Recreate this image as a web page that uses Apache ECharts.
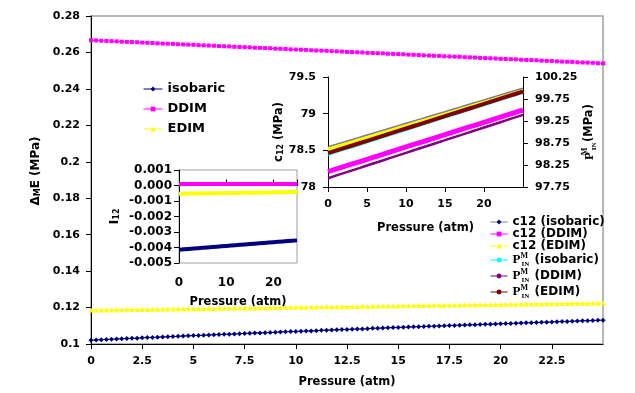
<!DOCTYPE html>
<html>
<head>
<meta charset="utf-8">
<script src="https://cdn.jsdelivr.net/npm/echarts@6/dist/echarts.min.js"></script>
<style>
  html, body { margin: 0; padding: 0; background: #fff; }
  #chart { width: 635px; height: 393px; }
</style>
</head>
<body>
<div id="chart"></div>
<script>
// main plot, pressure (atm) every 0.25
const pressure = [
  0, 0.25, 0.5, 0.75, 1, 1.25, 1.5, 1.75, 2, 2.25, 2.5, 2.75, 3, 3.25, 3.5, 3.75, 4, 4.25, 4.5, 4.75,
  5, 5.25, 5.5, 5.75, 6, 6.25, 6.5, 6.75, 7, 7.25, 7.5, 7.75, 8, 8.25, 8.5, 8.75, 9, 9.25, 9.5, 9.75,
  10, 10.25, 10.5, 10.75, 11, 11.25, 11.5, 11.75, 12, 12.25, 12.5, 12.75, 13, 13.25, 13.5, 13.75, 14, 14.25, 14.5, 14.75,
  15, 15.25, 15.5, 15.75, 16, 16.25, 16.5, 16.75, 17, 17.25, 17.5, 17.75, 18, 18.25, 18.5, 18.75, 19, 19.25, 19.5, 19.75,
  20, 20.25, 20.5, 20.75, 21, 21.25, 21.5, 21.75, 22, 22.25, 22.5, 22.75, 23, 23.25, 23.5, 23.75, 24, 24.25, 24.5, 24.75, 25
]
const dmeIsobaric = [
  0.1021, 0.1022, 0.1024, 0.1025, 0.1026, 0.1027, 0.1029, 0.1030, 0.1031, 0.1032, 0.1034, 0.1035, 0.1036, 0.1037, 0.1039, 0.1040, 0.1041, 0.1042, 0.1044, 0.1045,
  0.1046, 0.1047, 0.1048, 0.1049, 0.1051, 0.1052, 0.1053, 0.1054, 0.1055, 0.1056, 0.1058, 0.1059, 0.1060, 0.1061, 0.1062, 0.1063, 0.1064, 0.1066, 0.1067, 0.1068,
  0.1069, 0.1070, 0.1071, 0.1072, 0.1073, 0.1075, 0.1076, 0.1077, 0.1078, 0.1079, 0.1080, 0.1081, 0.1082, 0.1083, 0.1084, 0.1086, 0.1087, 0.1088, 0.1089, 0.1090,
  0.1091, 0.1092, 0.1093, 0.1094, 0.1095, 0.1096, 0.1097, 0.1098, 0.1099, 0.1100, 0.1101, 0.1102, 0.1103, 0.1104, 0.1105, 0.1106, 0.1107, 0.1108, 0.1109, 0.1110,
  0.1111, 0.1112, 0.1113, 0.1114, 0.1115, 0.1116, 0.1117, 0.1118, 0.1119, 0.1120, 0.1121, 0.1122, 0.1123, 0.1124, 0.1125, 0.1126, 0.1127, 0.1128, 0.1129, 0.1130, 0.1131
]
const dmeDDIM = [
  0.2667, 0.2666, 0.2664, 0.2663, 0.2662, 0.2661, 0.2659, 0.2658, 0.2657, 0.2656, 0.2654, 0.2653, 0.2652, 0.2650, 0.2649, 0.2648, 0.2647, 0.2645, 0.2644, 0.2643,
  0.2642, 0.2640, 0.2639, 0.2638, 0.2637, 0.2635, 0.2634, 0.2633, 0.2631, 0.2630, 0.2629, 0.2628, 0.2626, 0.2625, 0.2624, 0.2623, 0.2621, 0.2620, 0.2619, 0.2617,
  0.2616, 0.2615, 0.2614, 0.2612, 0.2611, 0.2610, 0.2609, 0.2607, 0.2606, 0.2605, 0.2603, 0.2602, 0.2601, 0.2600, 0.2598, 0.2597, 0.2596, 0.2595, 0.2593, 0.2592,
  0.2591, 0.2590, 0.2588, 0.2587, 0.2586, 0.2584, 0.2583, 0.2582, 0.2581, 0.2579, 0.2578, 0.2577, 0.2576, 0.2574, 0.2573, 0.2572, 0.2570, 0.2569, 0.2568, 0.2567,
  0.2565, 0.2564, 0.2563, 0.2562, 0.2560, 0.2559, 0.2558, 0.2557, 0.2555, 0.2554, 0.2553, 0.2551, 0.2550, 0.2549, 0.2548, 0.2546, 0.2545, 0.2544, 0.2543, 0.2541, 0.2540
]
const dmeEDIM = [
  0.1186, 0.1186, 0.1187, 0.1187, 0.1188, 0.1188, 0.1188, 0.1189, 0.1189, 0.1190, 0.1190, 0.1190, 0.1191, 0.1191, 0.1191, 0.1192, 0.1192, 0.1193, 0.1193, 0.1193,
  0.1194, 0.1194, 0.1195, 0.1195, 0.1195, 0.1196, 0.1196, 0.1197, 0.1197, 0.1197, 0.1198, 0.1198, 0.1198, 0.1199, 0.1199, 0.1200, 0.1200, 0.1200, 0.1201, 0.1201,
  0.1202, 0.1202, 0.1202, 0.1203, 0.1203, 0.1204, 0.1204, 0.1204, 0.1205, 0.1205, 0.1205, 0.1206, 0.1206, 0.1207, 0.1207, 0.1207, 0.1208, 0.1208, 0.1209, 0.1209,
  0.1209, 0.1210, 0.1210, 0.1211, 0.1211, 0.1211, 0.1212, 0.1212, 0.1213, 0.1213, 0.1213, 0.1214, 0.1214, 0.1214, 0.1215, 0.1215, 0.1216, 0.1216, 0.1216, 0.1217,
  0.1217, 0.1218, 0.1218, 0.1218, 0.1219, 0.1219, 0.1220, 0.1220, 0.1220, 0.1221, 0.1221, 0.1221, 0.1222, 0.1222, 0.1223, 0.1223, 0.1223, 0.1224, 0.1224, 0.1225, 0.1225
]

// insets, pressure every 1 atm
const pressureInset = [0, 1, 2, 3, 4, 5, 6, 7, 8, 9, 10, 11, 12, 13, 14, 15, 16, 17, 18, 19, 20, 21, 22, 23, 24, 25]
const i12Isobaric = [-0.00414, -0.004116, -0.004092, -0.004068, -0.004044, -0.00402, -0.003996, -0.003972, -0.003948, -0.003924, -0.0039, -0.003876, -0.003852, -0.003828, -0.003804, -0.00378, -0.003756, -0.003732, -0.003708, -0.003684, -0.00366, -0.003636, -0.003612, -0.003588, -0.003564, -0.00354]
const i12DDIM = [0.0001, 0.0001, 0.0001, 0.0001, 0.0001, 0.0001, 0.0001, 0.0001, 0.0001, 0.0001, 0.0001, 0.0001, 0.0001, 0.0001, 0.0001, 0.0001, 0.0001, 0.0001, 0.0001, 0.0001, 0.0001, 0.0001, 0.0001, 0.0001, 0.0001, 0.0001]
const i12EDIM = [-0.00053, -0.000526, -0.000521, -0.000517, -0.000512, -0.000508, -0.000504, -0.000499, -0.000495, -0.00049, -0.000486, -0.000482, -0.000477, -0.000473, -0.000468, -0.000464, -0.00046, -0.000455, -0.000451, -0.000446, -0.000442, -0.000438, -0.000433, -0.000429, -0.000424, -0.00042]
const c12Isobaric = [78.545, 78.577, 78.609, 78.641, 78.673, 78.705, 78.737, 78.769, 78.801, 78.833, 78.865, 78.897, 78.929, 78.961, 78.993, 79.025, 79.057, 79.089, 79.121, 79.153, 79.185, 79.217, 79.249, 79.281, 79.313, 79.345]
const c12DDIM = [78.210, 78.244, 78.277, 78.311, 78.344, 78.378, 78.412, 78.445, 78.479, 78.512, 78.546, 78.580, 78.613, 78.647, 78.680, 78.714, 78.748, 78.781, 78.815, 78.848, 78.882, 78.916, 78.949, 78.983, 79.016, 79.050]
const c12EDIM = [78.510, 78.542, 78.574, 78.606, 78.638, 78.670, 78.702, 78.734, 78.766, 78.798, 78.830, 78.862, 78.894, 78.926, 78.958, 78.990, 79.022, 79.054, 79.086, 79.118, 79.150, 79.182, 79.214, 79.246, 79.278, 79.310]
const pinIsobaric = [98.480, 98.536, 98.593, 98.649, 98.706, 98.762, 98.818, 98.875, 98.931, 98.988, 99.044, 99.100, 99.157, 99.213, 99.270, 99.326, 99.382, 99.439, 99.495, 99.552, 99.608, 99.664, 99.721, 99.777, 99.834, 99.890]
const pinDDIM = [97.950, 98.008, 98.065, 98.123, 98.180, 98.238, 98.296, 98.353, 98.411, 98.468, 98.526, 98.584, 98.641, 98.699, 98.756, 98.814, 98.872, 98.929, 98.987, 99.044, 99.102, 99.160, 99.217, 99.275, 99.332, 99.390]
const pinEDIM = [98.520, 98.576, 98.632, 98.688, 98.744, 98.800, 98.856, 98.912, 98.968, 99.024, 99.080, 99.136, 99.192, 99.248, 99.304, 99.360, 99.416, 99.472, 99.528, 99.584, 99.640, 99.696, 99.752, 99.808, 99.864, 99.920]

const FONT = 'DejaVu Sans'
const NAVY = '#000080', MAGENTA = '#ff00ff', YELLOW = '#ffff00'
const CYAN = '#00ffff', PURPLE = '#800080', BROWN = '#800000'

const pairs = (xs, ys) => xs.map((x, i) => [x, ys[i]])
const txt = (size, extra) => Object.assign({ fontFamily: FONT, fontWeight: 'bold', fontSize: size, color: '#000' }, extra || {})
const blackLine = { show: true, onZero: false, lineStyle: { color: '#000', width: 1 } }
const tick = (len) => ({ show: true, length: len, lineStyle: { color: '#000', width: 1 } })
const noSplit = { show: false }
// P with stacked M (sup) and IN (sub)
const pRich = {
  p: { fontFamily: 'Liberation Serif', fontWeight: 'bold', fontSize: 13, color: '#000', lineHeight: 16 },
  m: { fontFamily: 'Liberation Serif', fontWeight: 'bold', fontSize: 8, color: '#000', verticalAlign: 'top', width: 1, lineHeight: 9 },
  n: { fontFamily: 'Liberation Serif', fontWeight: 'bold', fontSize: 7, color: '#000', verticalAlign: 'bottom', width: 9, lineHeight: 8 },
  t: txt(12, { lineHeight: 14 })
}

const chart = echarts.init(document.getElementById('chart'))

const option = {
  animation: false,
  backgroundColor: '#fff',
  grid: [
    { left: 91, top: 16, width: 512, height: 328, show: true, borderColor: '#a0a0a0', borderWidth: 1.5, backgroundColor: 'transparent' },
    { left: 179, top: 170, width: 118, height: 93, show: true, borderColor: '#a0a0a0', borderWidth: 1, backgroundColor: '#fff' },
    { left: 328, top: 77, width: 195, height: 110, show: false }
  ],
  legend: [
    {
      orient: 'vertical', left: 138, top: 77, itemWidth: 19, itemHeight: 6, itemGap: 6,
      data: ['isobaric', 'DDIM', 'EDIM'],
      lineStyle: { width: 1 },
      textStyle: txt(13, { lineHeight: 14 })
    },
    {
      orient: 'vertical', left: 485, top: 211, itemWidth: 17, itemHeight: 6, itemGap: 0,
      data: ['c12 (isobaric)', 'c12 (DDIM)', 'c12 (EDIM)', 'P (isobaric)', 'P (DDIM)', 'P (EDIM)'],
      lineStyle: { width: 1 },
      formatter: name => name.indexOf('P ') === 0 ? '{p|P}{m|M}{n|IN}{t| ' + name.slice(2) + '}' : '{t|' + name + '}',
      textStyle: txt(12, { rich: pRich })
    }
  ],
  xAxis: [
    {
      gridIndex: 0, type: 'value', min: 0, max: 25, interval: 2.5,
      axisLine: blackLine, axisTick: tick(5), splitLine: noSplit,
      axisLabel: txt(11, { margin: 12, showMaxLabel: false }),
      name: 'Pressure (atm)', nameLocation: 'middle', nameGap: 32, nameTextStyle: txt(11.5)
    },
    {
      gridIndex: 1, type: 'value', min: 0, max: 25, interval: 10, position: 'bottom',
      axisLine: { show: false, onZero: false }, axisTick: { show: false }, splitLine: noSplit,
      axisLabel: txt(12, { margin: 14, showMaxLabel: false }),
      name: 'Pressure (atm)', nameLocation: 'middle', nameGap: 33, nameTextStyle: txt(11.5)
    },
    {
      // axis line of the inset crossing at zero, ticks only
      gridIndex: 1, type: 'value', min: 0, max: 25, interval: 10, position: 'top',
      axisLine: { show: true, onZero: true, lineStyle: { color: '#000' } },
      axisTick: tick(6), axisLabel: { show: false }, splitLine: noSplit
    },
    {
      gridIndex: 2, type: 'value', min: 0, max: 25, interval: 5,
      axisLine: blackLine, axisTick: tick(5), splitLine: noSplit,
      axisLabel: txt(11, { margin: 12, showMaxLabel: false }),
      name: 'Pressure (atm)', nameLocation: 'middle', nameGap: 35, nameTextStyle: txt(11.5)
    }
  ],
  yAxis: [
    {
      gridIndex: 0, type: 'value', min: 0.1, max: 0.28, interval: 0.02,
      axisLine: blackLine, axisTick: tick(5), splitLine: noSplit,
      axisLabel: txt(11, { margin: 11 }),
      name: '{a|Δ}{b|M}{a|E (MPa)}', nameLocation: 'middle', nameRotate: 90, nameGap: 47,
      nameTextStyle: txt(12, { padding: [0, 0, 0, 18], rich: { a: txt(12), b: txt(8, { verticalAlign: 'bottom' }) } })
    },
    {
      gridIndex: 1, type: 'value', min: -0.005, max: 0.001, interval: 0.001,
      axisLine: blackLine, axisTick: tick(5), splitLine: noSplit,
      axisLabel: txt(12, { margin: 7, formatter: v => (Math.abs(v) < 1e-9 ? 0 : v).toFixed(3) }),
      name: '{a|I}{b|12}', nameLocation: 'middle', nameRotate: 90, nameGap: 58,
      nameTextStyle: txt(12, { rich: { a: txt(13), b: txt(8, { verticalAlign: 'bottom' }) } })
    },
    {
      gridIndex: 2, type: 'value', min: 78, max: 79.5, interval: 0.5, position: 'left',
      axisLine: blackLine, axisTick: tick(5), splitLine: noSplit,
      axisLabel: txt(11, { margin: 12 }),
      name: '{a|c}{b|12}{a| (MPa)}', nameLocation: 'middle', nameRotate: 90, nameGap: 43,
      nameTextStyle: txt(11.5, { rich: { a: txt(11.5), b: txt(8, { verticalAlign: 'bottom' }) } })
    },
    {
      gridIndex: 2, type: 'value', min: 97.75, max: 100.25, interval: 0.5, position: 'right',
      axisLine: blackLine, axisTick: tick(5), splitLine: noSplit,
      axisLabel: txt(11, { margin: 12 }),
      name: '{p|P}{m|M}{n|IN}{t|(MPa)}', nameLocation: 'middle', nameRotate: 90, nameGap: 52,
      nameTextStyle: txt(11.5, { rich: Object.assign({}, pRich, { t: txt(11.5, { lineHeight: 14 }) }) })
    }
  ],
  series: [
    // main plot
    { name: 'isobaric', type: 'line', xAxisIndex: 0, yAxisIndex: 0, data: pairs(pressure, dmeIsobaric),
      symbol: 'diamond', symbolSize: 5, color: NAVY, lineStyle: { width: 1 } },
    { name: 'DDIM', type: 'line', xAxisIndex: 0, yAxisIndex: 0, data: pairs(pressure, dmeDDIM),
      symbol: 'rect', symbolSize: 4, color: MAGENTA, lineStyle: { width: 1 } },
    { name: 'EDIM', type: 'line', xAxisIndex: 0, yAxisIndex: 0, data: pairs(pressure, dmeEDIM),
      symbol: 'triangle', symbolSize: 5, color: YELLOW, lineStyle: { width: 1 } },
    // I12 inset
    { name: 'I12 isobaric', type: 'line', xAxisIndex: 1, yAxisIndex: 1, data: pairs(pressureInset, i12Isobaric),
      showSymbol: false, color: NAVY, lineStyle: { width: 4 } },
    { name: 'I12 DDIM', type: 'line', xAxisIndex: 1, yAxisIndex: 1, data: pairs(pressureInset, i12DDIM),
      showSymbol: false, color: MAGENTA, lineStyle: { width: 4 } },
    { name: 'I12 EDIM', type: 'line', xAxisIndex: 1, yAxisIndex: 1, data: pairs(pressureInset, i12EDIM),
      showSymbol: false, color: YELLOW, lineStyle: { width: 4 } },
    // c12 / P inset
    { name: 'c12 (isobaric)', type: 'line', xAxisIndex: 3, yAxisIndex: 2, data: pairs(pressureInset, c12Isobaric),
      symbol: 'diamond', showSymbol: false, color: NAVY, lineStyle: { width: 2, color: '#7a7a90' } },
    { name: 'c12 (DDIM)', type: 'line', xAxisIndex: 3, yAxisIndex: 2, data: pairs(pressureInset, c12DDIM),
      symbol: 'rect', showSymbol: false, color: MAGENTA, lineStyle: { width: 5 } },
    { name: 'c12 (EDIM)', type: 'line', xAxisIndex: 3, yAxisIndex: 2, data: pairs(pressureInset, c12EDIM),
      symbol: 'triangle', showSymbol: false, color: YELLOW, lineStyle: { width: 4 } },
    { name: 'P (isobaric)', type: 'line', xAxisIndex: 3, yAxisIndex: 3, data: pairs(pressureInset, pinIsobaric),
      symbol: 'circle', showSymbol: false, color: CYAN, lineStyle: { width: 2 } },
    { name: 'P (DDIM)', type: 'line', xAxisIndex: 3, yAxisIndex: 3, data: pairs(pressureInset, pinDDIM),
      symbol: 'circle', showSymbol: false, color: PURPLE, lineStyle: { width: 2.5 } },
    { name: 'P (EDIM)', type: 'line', xAxisIndex: 3, yAxisIndex: 3, data: pairs(pressureInset, pinEDIM),
      symbol: 'circle', showSymbol: false, color: BROWN, lineStyle: { width: 4 } }
  ]
}

chart.setOption(option)
</script>
</body>
</html>
